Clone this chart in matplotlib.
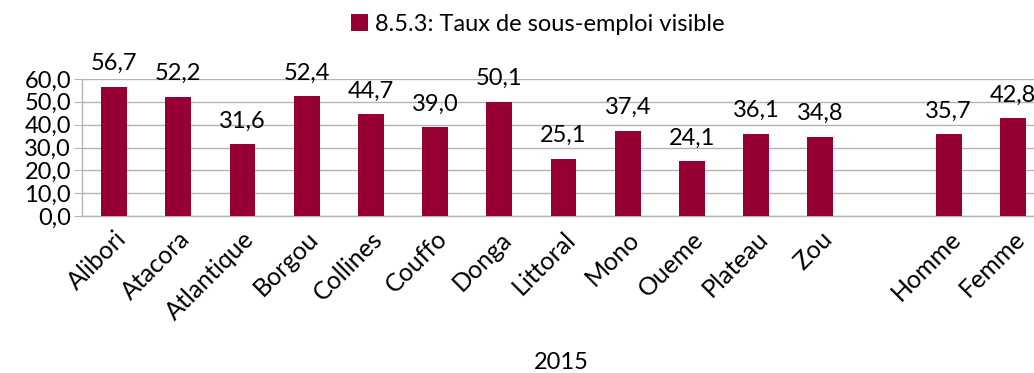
import matplotlib.pyplot as plt
import numpy as np

plt.rcParams['font.family'] = ['Lato', 'DejaVu Sans']

categories = ["Alibori", "Atacora", "Atlantique", "Borgou", "Collines", "Couffo",
              "Donga", "Littoral", "Mono", "Oueme", "Plateau", "Zou", "",
              "Homme", "Femme"]
values = [56.7, 52.2, 31.6, 52.4, 44.7, 39.0, 50.1, 25.1, 37.4, 24.1, 36.1, 34.8,
          None, 35.7, 42.8]
series_name = "8.5.3: Taux de sous-emploi visible"
year_label = "2015"

BAR_COLOR = "#970034"
GRID_COLOR = "#b3b3b3"
FS = 17

fig = plt.figure(figsize=(10.34, 3.73), dpi=100)
ax = fig.add_axes([0.0793, 0.4209, 0.9313, 0.3673])

x = np.arange(len(categories))
for xi, v in zip(x, values):
    if v is None:
        continue
    ax.bar(xi, v, width=0.4, color=BAR_COLOR, zorder=3,
           label=series_name if xi == 0 else "_nolegend_")
    ax.annotate(f"{v:.1f}".replace(".", ","), (xi, v), xytext=(0, 9),
                textcoords="offset points", ha="center", va="bottom",
                fontsize=FS, color="black", annotation_clip=False)

ax.set_xlim(-0.5, len(categories) - 0.5)
ax.set_ylim(0, 60)
ax.set_yticks(np.arange(0, 61, 10))
ax.set_yticklabels([f"{t:.1f}".replace(".", ",") for t in np.arange(0, 61, 10)],
                   fontsize=FS)
ax.set_xticks(x)
ax.set_xticklabels(categories, rotation=45, ha="right", rotation_mode="anchor",
                   fontsize=18)
ax.tick_params(axis="x", length=0, pad=8)
ax.tick_params(axis="y", length=6, color=GRID_COLOR, pad=2)

ax.grid(axis="y", color=GRID_COLOR, linewidth=1, zorder=0)
for side in ["top", "right"]:
    ax.spines[side].set_visible(False)
for side in ["left", "bottom"]:
    ax.spines[side].set_color(GRID_COLOR)
    ax.spines[side].set_linewidth(1)

fig.text(0.543, 0.027, year_label, ha="center", va="center", fontsize=FS)
fig.legend(loc="center", bbox_to_anchor=(0.52, 0.935), frameon=False,
           fontsize=FS, handlelength=0.7, handleheight=0.7, handletextpad=0.3)

fig.savefig("out.png", dpi=100)
